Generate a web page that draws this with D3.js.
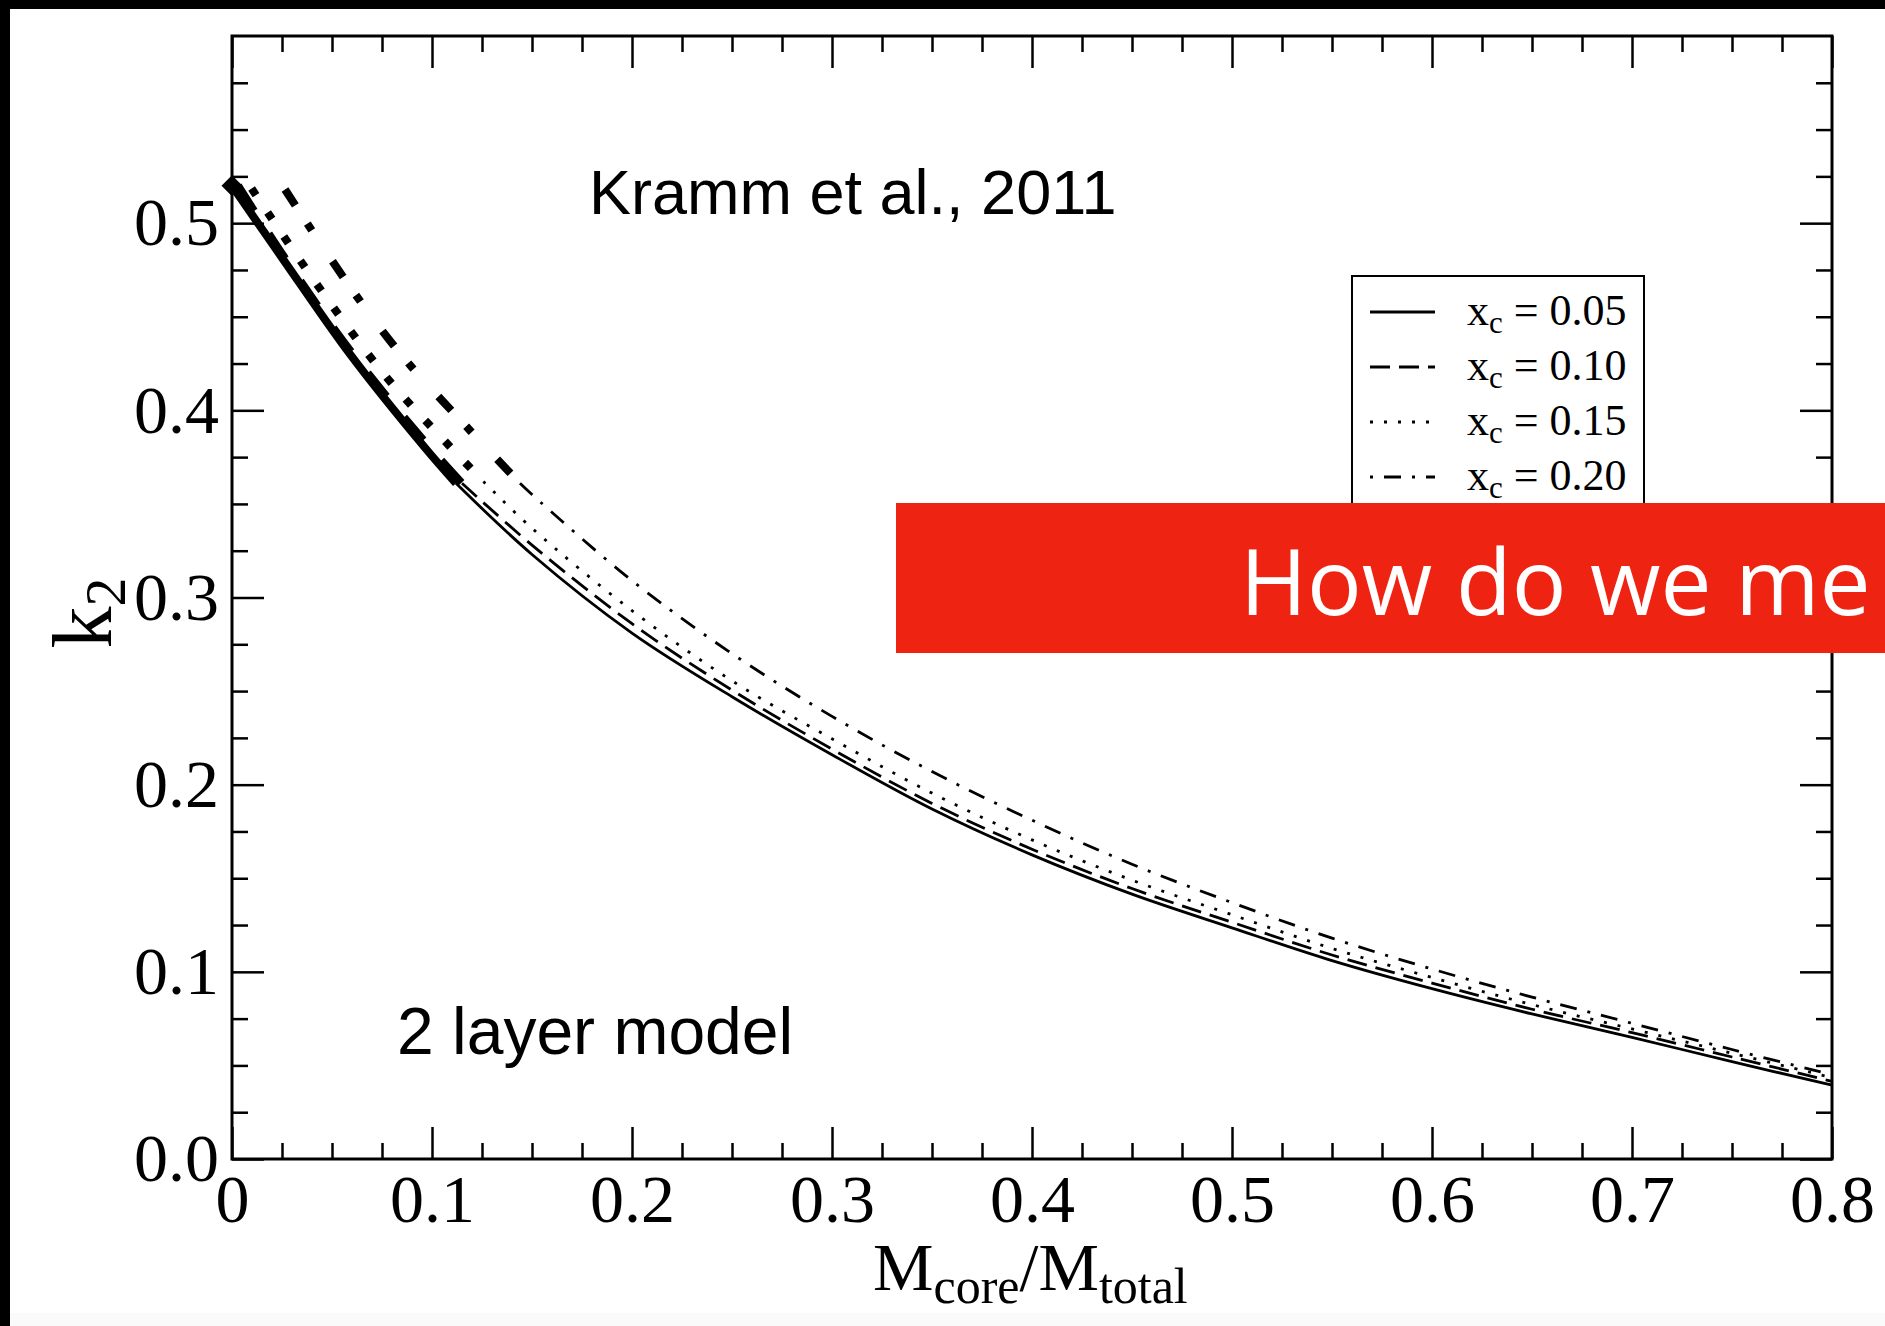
<!DOCTYPE html>
<meta charset="utf-8">
<style>
body { margin: 0; background: #fff; }
svg { display: block; }
.tick text { font-family: "Liberation Serif", "Times New Roman", serif; font-size: 68px; fill: #000; }
.tick line { stroke: #000; stroke-width: 2.5px; }
.serif { font-family: "Liberation Serif", "Times New Roman", serif; fill: #000; }
.note { font-family: "Liberation Sans", Arial, sans-serif; fill: #000; }
.curve { fill: none; stroke: #000; stroke-linecap: butt; }
</style>
<svg width="1885" height="1326"></svg>
<script src="https://cdn.jsdelivr.net/npm/d3@7"></script>
<script>

// k2 vs core mass fraction (Kramm et al., 2011)
const xcLabels = ['0.05', '0.10', '0.15', '0.20'];

const m05 = [0, 0.026, 0.059, 0.0965, 0.112, 0.15, 0.2, 0.25, 0.3, 0.35, 0.4, 0.45, 0.5, 0.55, 0.6, 0.65, 0.7, 0.75, 0.8];
const k05 = [0.520, 0.480, 0.430, 0.380, 0.361, 0.323, 0.281, 0.247, 0.216, 0.187, 0.1625, 0.1415, 0.1235, 0.106, 0.091, 0.0775, 0.065, 0.052, 0.0395];

const m10 = [0.003, 0.026, 0.059, 0.0965, 0.115, 0.15, 0.2, 0.25, 0.3, 0.35, 0.4, 0.45, 0.5, 0.55, 0.6, 0.65, 0.7, 0.75, 0.8];
const k10 = [0.520, 0.482, 0.432, 0.383, 0.361, 0.328, 0.286, 0.2505, 0.219, 0.190, 0.1655, 0.1445, 0.1265, 0.109, 0.094, 0.080, 0.0675, 0.0545, 0.0415];

const m15 = [0.0098, 0.042, 0.077, 0.106, 0.1257, 0.15, 0.2, 0.25, 0.3, 0.35, 0.4, 0.45, 0.5, 0.55, 0.6, 0.65, 0.7, 0.75, 0.8];
const k15 = [0.5185, 0.468, 0.418, 0.384, 0.362, 0.337, 0.293, 0.2555, 0.2245, 0.1955, 0.1705, 0.149, 0.1305, 0.1125, 0.097, 0.0825, 0.0695, 0.0565, 0.0435];

const m20 = [0.0265, 0.059, 0.0848, 0.114, 0.144, 0.15, 0.2, 0.25, 0.3, 0.35, 0.4, 0.45, 0.5, 0.55, 0.6, 0.65, 0.7, 0.75, 0.8];
const k20 = [0.518, 0.466, 0.4295, 0.395, 0.361, 0.355, 0.309, 0.270, 0.2365, 0.207, 0.181, 0.1575, 0.137, 0.118, 0.1015, 0.0865, 0.0725, 0.0585, 0.045];

// bold part of each curve ends here (M_core/M_total)
const thickEnd = [0.112, 0.115, 0.1257, 0.144];

// the diamond at the start
const startPoint = [0, 0.520];

const xMajor = [0, 0.1, 0.2, 0.3, 0.4, 0.5, 0.6, 0.7, 0.8];
const yMajor = [0, 0.1, 0.2, 0.3, 0.4, 0.5];

const svg = d3.select('svg');
const W = 1885, H = 1326;

const x = d3.scaleLinear().domain([0, 0.8]).range([232, 1832]);
const y = d3.scaleLinear().domain([0, 0.6]).range([1159, 36]);

// photo frame bits
svg.append('rect').attr('width', W).attr('height', H).attr('fill', '#fff');
svg.append('rect').attr('x', 10).attr('y', 1313).attr('width', W - 10).attr('height', 13).attr('fill', '#fafafa');
svg.append('rect').attr('width', W).attr('height', 9).attr('fill', '#000');
svg.append('rect').attr('width', 10).attr('height', H).attr('fill', '#000');

const xMinor = d3.range(1, 32).filter(i => i % 4).map(i => i * 0.025);
const yMinor = d3.range(1, 24).filter(i => i % 4).map(i => i * 0.025);
const fmt1 = d3.format('.1f');

function axisG(axis, tx, ty) {
  svg.append('g')
    .attr('transform', `translate(${tx},${ty})`)
    .call(axis)
    .call(g => g.select('.domain').remove());
}

// major + minor ticks, all pointing inward
axisG(d3.axisBottom(x).tickValues(xMajor).tickSize(-32).tickPadding(15)
  .tickFormat(d => d === 0 ? '0' : fmt1(d)), 0, y(0));
axisG(d3.axisBottom(x).tickValues(xMinor).tickSize(-16).tickFormat(''), 0, y(0));
axisG(d3.axisTop(x).tickValues(xMajor).tickSize(-32).tickFormat(''), 0, y(0.6));
axisG(d3.axisTop(x).tickValues(xMinor).tickSize(-16).tickFormat(''), 0, y(0.6));
axisG(d3.axisLeft(y).tickValues(yMajor).tickSize(-32).tickPadding(13).tickFormat(fmt1), x(0), 0);
axisG(d3.axisLeft(y).tickValues(yMinor).tickSize(-16).tickFormat(''), x(0), 0);
axisG(d3.axisRight(y).tickValues(yMajor).tickSize(-32).tickFormat(''), x(0.8), 0);
axisG(d3.axisRight(y).tickValues(yMinor).tickSize(-16).tickFormat(''), x(0.8), 0);

svg.append('rect')
  .attr('x', x(0)).attr('y', y(0.6))
  .attr('width', x(0.8) - x(0)).attr('height', y(0) - y(0.6))
  .attr('fill', 'none').attr('stroke', '#000').attr('stroke-width', 3);

// curves
const series = [m05, m10, m15, m20].map((m, i) => ({
  label: xcLabels[i],
  pts: m.map((v, j) => [v, [k05, k10, k15, k20][i][j]]),
  end: thickEnd[i]
}));

const thinDash = [null, '20,9', '3,11', '17,11,3,11'];
const thickDash = [null, '30,27', '8,21', '19,22,8,37'];

const line = d3.line().x(d => x(d[0])).y(d => y(d[1])).curve(d3.curveCatmullRom);

svg.selectAll('.thin')
  .data(series)
  .enter().append('path')
    .attr('class', 'curve thin')
    .attr('d', d => line(d.pts.filter(p => p[0] >= d.end)))
    .attr('stroke-width', 2.8)
    .attr('stroke-dasharray', (d, i) => thinDash[i]);

svg.selectAll('.thick')
  .data(series)
  .enter().append('path')
    .attr('class', 'curve thick')
    .attr('d', d => line(d.pts.filter(p => p[0] <= d.end)))
    .attr('stroke-width', 8)
    .attr('stroke-dasharray', (d, i) => thickDash[i]);

svg.append('path')
  .attr('d', d3.symbol(d3.symbolDiamond2, 280)())
  .attr('transform', `translate(${x(startPoint[0])},${y(startPoint[1])})`)
  .attr('fill', '#000');

// legend
const lg = svg.append('g');
lg.append('rect')
  .attr('x', 1352).attr('y', 276).attr('width', 292).attr('height', 240)
  .attr('fill', '#fff').attr('stroke', '#000').attr('stroke-width', 2);

const rows = lg.selectAll('.row')
  .data(series)
  .enter().append('g')
    .attr('transform', (d, i) => `translate(0,${325 + i * 55})`);

rows.append('line')
  .attr('x1', 1370).attr('x2', 1435).attr('y1', -13).attr('y2', -13)
  .attr('stroke', '#000').attr('stroke-width', 3)
  .attr('stroke-dasharray', (d, i) => thinDash[i])
  .attr('stroke-dashoffset', (d, i) => i === 3 ? 28 : 0);

const lt = rows.append('text')
  .attr('class', 'serif')
  .attr('x', 1467).attr('y', 0)
  .style('font-size', '44px');
lt.append('tspan').text('x');
lt.append('tspan').attr('dy', 8).style('font-size', '31px').text('c');
lt.append('tspan').attr('dy', -8).text(d => ` = ${d.label}`);

// annotations
svg.append('text')
  .attr('class', 'note')
  .attr('x', 589).attr('y', 214)
  .style('font-size', '63px')
  .text('Kramm et al., 2011');

svg.append('text')
  .attr('class', 'note')
  .attr('x', 397).attr('y', 1054)
  .style('font-size', '66px')
  .text('2 layer model');

// axis titles
const xt = svg.append('text')
  .attr('class', 'serif')
  .attr('x', 873).attr('y', 1290)
  .style('font-size', '68px');
xt.append('tspan').text('M');
xt.append('tspan').attr('dy', 13).style('font-size', '50px').text('core');
xt.append('tspan').attr('dy', -13).text('/M');
xt.append('tspan').attr('dy', 13).style('font-size', '50px').text('total');

const yt = svg.append('text')
  .attr('class', 'serif')
  .attr('transform', 'translate(111,613) rotate(-90)')
  .attr('text-anchor', 'middle')
  .style('font-size', '84px');
yt.append('tspan').text('k');
yt.append('tspan').attr('dy', 14).style('font-size', '58px').text('2');

// slide banner across the plot
svg.append('rect')
  .attr('x', 896).attr('y', 503).attr('width', W - 896).attr('height', 150)
  .attr('fill', '#ee2311');
svg.append('text')
  .attr('x', 1240).attr('y', 615)
  .style('font-family', '"Open Sans", sans-serif')
  .style('font-size', '91px')
  .attr('fill', '#fff')
  .text('How do we me');

</script>
